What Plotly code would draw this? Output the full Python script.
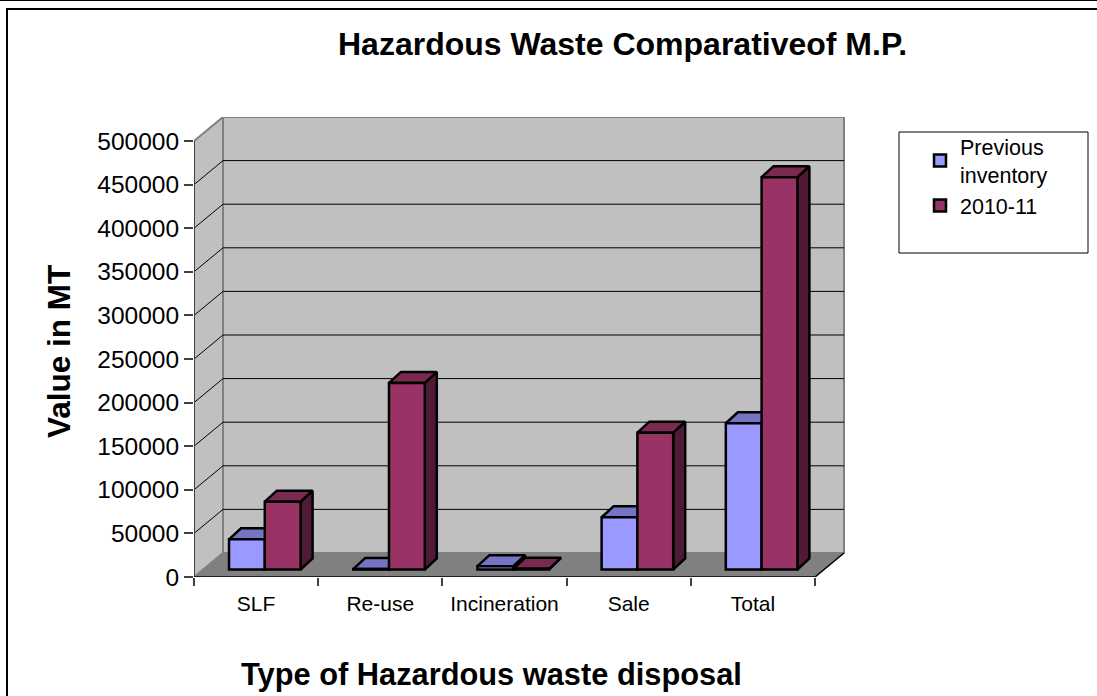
import plotly.graph_objects as go

categories = ["SLF", "Re-use", "Incineration", "Sale", "Total"]
previous_inventory = [34600, 500, 3800, 59900, 167700]
year_2010_11 = [77800, 214000, 800, 156900, 449900]
y_ticks = [0, 50000, 100000, 150000, 200000, 250000, 300000, 350000, 400000, 450000, 500000]

TITLE = "Hazardous Waste Comparativeof M.P."
X_TITLE = "Type of Hazardous waste disposal"
Y_TITLE = "Value in MT"
FONT = "Liberation Sans, Arial, sans-serif"

W, H = 1097, 696
L, R, T, B = 194, 845, 117, 577          # plot area including the 3D depth, in px
BAND = 124.2                             # px per category
PX_X = 1 / BAND
PX_Y = 500000 / 436
X0, X1 = -0.5, 4.5
XMAX = X0 + (R - L) * PX_X
YMAX = (B - T) * PX_Y
WALL_DX, WALL_DY = 29 * PX_X, 24 * PX_Y  # depth of the chart box
BAR_DX, BAR_DY = 12 * PX_X, 11 * PX_Y    # depth of a bar
LIFT = 7.5 * PX_Y                        # bars stand inside the floor
BAR_W = 35.8 * PX_X
OFFSETS = (-0.218, 0.07)

BLUE, BLUE_TOP, BLUE_SIDE = "#9999FF", "#7575C3", "#4D4D80"
RED, RED_TOP, RED_SIDE = "#993366", "#7A2950", "#4F1A35"


def px(x):
    return (x - L) / (R - L)


def py(y):
    return (B - y) / (B - T)


def poly(fig, xs, ys, fill, line="black", width=2.5):
    fig.add_trace(go.Scatter(x=xs, y=ys, mode="lines", fill="toself", fillcolor=fill,
                             line=dict(color=line, width=width), hoverinfo="skip",
                             showlegend=False, cliponaxis=False, xaxis="x", yaxis="y"))


def line(fig, xs, ys, color, width):
    fig.add_trace(go.Scatter(x=xs, y=ys, mode="lines", line=dict(color=color, width=width),
                             hoverinfo="skip", showlegend=False, cliponaxis=False,
                             xaxis="x", yaxis="y"))


def faces(values, offset):
    sx, sy, tx, ty = [], [], [], []
    for i, v in enumerate(values):
        a = i + offset
        b = a + BAR_W
        h = LIFT + v
        sx += [b, b + BAR_DX, b + BAR_DX, b, b, None]
        sy += [LIFT, LIFT + BAR_DY, h + BAR_DY, h, LIFT, None]
        tx += [a, b, b + BAR_DX, a + BAR_DX, a, None]
        ty += [h, h, h + BAR_DY, h + BAR_DY, h, None]
    return sx, sy, tx, ty


fig = go.Figure()
top = y_ticks[-1]

# chart box: floor, side wall, back wall
poly(fig, [X0, X1, X1 + WALL_DX, X0 + WALL_DX, X0], [0, 0, WALL_DY, WALL_DY, 0], "#808080", "#808080", 1)
poly(fig, [X0, X0 + WALL_DX, X0 + WALL_DX, X0, X0], [0, WALL_DY, top + WALL_DY, top, 0], "#C0C0C0", "#808080", 2)
poly(fig, [X0 + WALL_DX, X1 + WALL_DX, X1 + WALL_DX, X0 + WALL_DX, X0 + WALL_DX],
     [WALL_DY, WALL_DY, top + WALL_DY, top + WALL_DY, WALL_DY], "#C0C0C0", "#808080", 2)

# gridlines
gx, gy = [], []
for v in y_ticks[1:-1]:
    gx += [X0, X0 + WALL_DX, X1 + WALL_DX, None]
    gy += [v, v + WALL_DY, v + WALL_DY, None]
line(fig, gx, gy, "#000000", 1)

# front edges
line(fig, [X0, X0], [0, top], "#404040", 2)
line(fig, [X0, X1, X1 + WALL_DX], [0, 0, WALL_DY], "#000000", 1.5)

# depth faces of the bars
for values, offset, side, cap in ((previous_inventory, OFFSETS[0], BLUE_SIDE, BLUE_TOP),
                                  (year_2010_11, OFFSETS[1], RED_SIDE, RED_TOP)):
    sx, sy, tx, ty = faces(values, offset)
    poly(fig, sx, sy, side)
    poly(fig, tx, ty, cap)

# front faces of the bars, on an overlay so they sit above the depth faces
for name, values, offset, colour in (("Previous<br>inventory", previous_inventory, OFFSETS[0], BLUE),
                                     ("2010-11", year_2010_11, OFFSETS[1], RED)):
    fig.add_trace(go.Bar(name=name, x=list(range(len(categories))), y=values,
                         base=[LIFT] * len(values), width=BAR_W, offset=offset,
                         marker=dict(color=colour, line=dict(color="black", width=2.5)),
                         xaxis="x2", yaxis="y2"))

fig.update_layout(
    width=W, height=H, autosize=False,
    margin=dict(l=L, r=W - R, t=T, b=H - B, pad=0),
    paper_bgcolor="white", plot_bgcolor="rgba(0,0,0,0)",
    font=dict(family=FONT, color="black"),
    barmode="overlay",
    title=dict(text=f"<b>{TITLE}</b>", x=622.5 / W, y=1 - 44 / H, xanchor="center", yanchor="middle",
               xref="container", yref="container", font=dict(size=32, family=FONT, color="black")),
    xaxis=dict(range=[X0, XMAX], tickvals=[X0 + i for i in range(len(categories) + 1)], showticklabels=False,
               ticks="outside", ticklen=8, tickcolor="#404040", tickwidth=1.5,
               showgrid=False, zeroline=False, showline=False),
    yaxis=dict(range=[0, YMAX], tickvals=y_ticks, ticktext=[str(v) for v in y_ticks],
               ticks="outside", ticklen=9, tickcolor="#404040", tickwidth=1.5,
               tickfont=dict(size=24.5, family=FONT, color="black"),
               showgrid=False, zeroline=False, showline=False),
    xaxis2=dict(range=[X0, XMAX], overlaying="x", anchor="y2", tickvals=list(range(len(categories))),
                ticktext=categories, ticks="outside", ticklen=8, tickcolor="rgba(0,0,0,0)",
                tickfont=dict(size=21, family=FONT, color="black"),
                showgrid=False, zeroline=False, showline=False),
    yaxis2=dict(range=[0, YMAX], overlaying="y", anchor="x2", visible=False),
    showlegend=True,
    legend=dict(x=px(920), y=py(126), xanchor="left", yanchor="top",
                bgcolor="rgba(0,0,0,0)", borderwidth=0, traceorder="normal",
                font=dict(size=21.5, family=FONT, color="black"), itemwidth=30),
    shapes=[
        dict(type="line", xref="paper", yref="paper", x0=px(8), x1=px(W), y0=py(9), y1=py(9),
             line=dict(color="black", width=2), layer="below"),
        dict(type="line", xref="paper", yref="paper", x0=px(7), x1=px(7), y0=py(8), y1=py(H),
             line=dict(color="black", width=2), layer="below"),
        dict(type="line", xref="paper", yref="paper", x0=px(0), x1=px(W), y0=py(0), y1=py(0),
             line=dict(color="black", width=2), layer="below"),
        dict(type="rect", xref="paper", yref="paper", x0=px(899), x1=px(1088), y0=py(253), y1=py(132),
             line=dict(color="black", width=1), fillcolor="white", layer="below"),
    ],
    annotations=[
        dict(text=f"<b>{X_TITLE}</b>", xref="paper", yref="paper", x=px(491.5), y=py(674),
             xanchor="center", yanchor="middle", showarrow=False, font=dict(size=30.8, family=FONT, color="black")),
        dict(text=f"<b>{Y_TITLE}</b>", xref="paper", yref="paper", x=px(59), y=py(352), textangle=-90,
             xanchor="center", yanchor="middle", showarrow=False, font=dict(size=31.5, family=FONT, color="black")),
    ],
)

fig.write_html("out.html", config={"displayModeBar": False}, post_script="document.body.style.margin='0';")
